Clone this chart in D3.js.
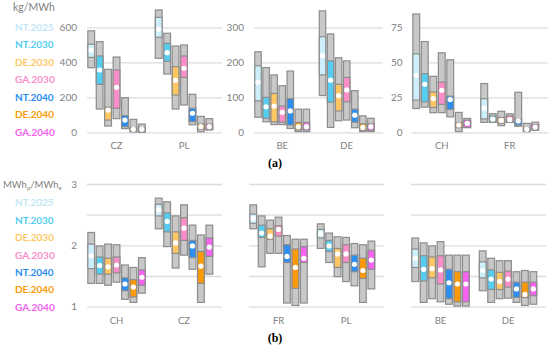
<!DOCTYPE html>
<html>
<head>
<meta charset="utf-8">
<script src="https://cdn.jsdelivr.net/npm/d3@7"></script>
<style>
  body { margin: 0; background: #fff; }
  svg { display: block; font-family: Lato, "Open Sans", sans-serif; }
</style>
</head>
<body>
<div id="chart"></div>
<script>
// scenarios and their colours
const scenarios = ["NT.2025", "NT.2030", "DE.2030", "GA.2030", "NT.2040", "DE.2040", "GA.2040"];
const barColors = ["#cdeefb", "#55cdf0", "#fec764", "#fb8ec8", "#2a8ef2", "#fb9a06", "#f462ee"];
const textColors = ["#c3e6f6", "#55cdf2", "#fec764", "#fb8ec8", "#2a8ef2", "#fb9a06", "#f462ee"];

// each row: [min, boxLow, boxHigh, max, dot]  (one row per scenario)
// (a) emissions, kg/MWh
const emisCZ = [[369, 428, 503, 580, 470], [133, 274, 436, 518, 356], [36, 70, 143, 360, 127], [78, 137, 356, 430, 257],
                [21, 32, 95, 198, 70], [2, 8, 25, 74, 17], [0, 8, 25, 47, 17]];
const emisPL = [[423, 543, 657, 699, 589], [333, 406, 509, 566, 455], [133, 213, 375, 493, 297], [156, 314, 436, 499, 366],
                [43, 61, 137, 217, 109], [3, 17, 47, 91, 32], [13, 17, 47, 78, 32]];
const emisBE = [[43, 90, 190, 230, 143], [30, 40, 100, 185, 73], [22, 30, 111, 164, 75], [22, 29, 75, 133, 57],
                [11, 21, 96, 175, 61], [2, 7, 28, 66, 16], [2, 7, 28, 66, 16]];
const emisDE = [[105, 164, 273, 347, 219], [14, 86, 204, 281, 149], [33, 61, 137, 213, 105], [35, 87, 157, 204, 121],
                [13, 29, 66, 119, 49], [2, 6, 24, 47, 14], [2, 6, 24, 40, 16]];
const emisCH = [[17, 23, 56, 84.5, 40.7], [18, 21.7, 41.9, 64.8, 34.3], [14, 17.7, 28.8, 40, 24.1], [14, 20, 35.9, 56.8, 30],
                [11, 16.3, 25.8, 51.8, 23.4], [0.5, 3.3, 6.8, 14.2, 5.2], [3.3, 3.5, 8.7, 9.9, 6.4]];
const emisFR = [[7.1, 9.6, 24, 34.8, 17.2], [7.1, 7.5, 11.6, 13.3, 9.4], [4.7, 6.4, 10.6, 15, 8.5], [7, 7.5, 11.6, 13.2, 9],
                [4.3, 5.2, 9.4, 28.6, 8.1], [0.4, 1.2, 3, 6.4, 2.1], [1.4, 2.5, 5.5, 7.2, 3.8]];

// (b) primary energy factor, MWh_p/MWh_e
const pefCH = [[1.38, 1.62, 2.02, 2.21, 1.83], [1.38, 1.53, 1.81, 1.99, 1.67], [1.35, 1.53, 1.79, 2.02, 1.65], [1.40, 1.55, 1.81, 2.01, 1.68],
               [1.12, 1.26, 1.47, 1.68, 1.37], [1.07, 1.16, 1.44, 1.64, 1.32], [1.22, 1.35, 1.60, 1.80, 1.48]];
const pefCZ = [[2.27, 2.48, 2.67, 2.77, 2.58], [1.98, 2.22, 2.53, 2.71, 2.39], [1.63, 1.87, 2.22, 2.48, 2.04], [1.84, 2.08, 2.45, 2.66, 2.28],
               [1.61, 1.80, 2.08, 2.33, 1.99], [1.07, 1.38, 1.90, 2.17, 1.66], [1.53, 1.82, 2.12, 2.33, 1.97]];
const pefFR = [[2.27, 2.36, 2.51, 2.66, 2.44], [1.65, 2.13, 2.33, 2.48, 2.20], [1.87, 2.10, 2.27, 2.41, 2.15], [1.87, 2.15, 2.32, 2.46, 2.26],
               [1.06, 1.72, 2.01, 2.16, 1.82], [1.02, 1.30, 1.94, 2.10, 1.64], [1.06, 1.72, 1.98, 2.10, 1.79]];
const pefPL = [[1.95, 2.12, 2.26, 2.35, 2.19], [1.72, 1.90, 2.08, 2.20, 1.99], [1.49, 1.64, 1.95, 2.14, 1.86], [1.41, 1.72, 2.01, 2.13, 1.86],
               [1.34, 1.57, 1.84, 2.03, 1.69], [1.07, 1.46, 1.79, 2.01, 1.59], [1.29, 1.61, 1.92, 2.07, 1.76]];
const pefBE = [[1.41, 1.64, 1.94, 2.12, 1.79], [1.07, 1.42, 1.83, 2.04, 1.61], [1.13, 1.47, 1.81, 1.99, 1.62], [1.08, 1.37, 1.83, 2.06, 1.60],
               [1.04, 1.13, 1.61, 1.84, 1.39], [1.01, 1.08, 1.57, 1.84, 1.37], [1.01, 1.08, 1.57, 1.84, 1.37]];
const pefDE = [[1.26, 1.47, 1.73, 1.91, 1.59], [1.07, 1.28, 1.60, 1.79, 1.45], [1.13, 1.28, 1.56, 1.75, 1.41], [1.14, 1.32, 1.58, 1.75, 1.45],
               [1.07, 1.15, 1.40, 1.57, 1.29], [1.02, 1.15, 1.40, 1.59, 1.20], [1.04, 1.18, 1.40, 1.57, 1.29]];

const W = 550, H = 348;
const svg = d3.select("#chart").append("svg").attr("width", W).attr("height", H);

function drawPanel(p) {
    const y = d3.scaleLinear().domain(p.domain).range(p.yRange);
    const x0 = d3.scaleBand().domain(p.cats.map(c => c.name))
        .range(p.xRange).paddingInner(0.125).paddingOuter(0.0625).align(0);
    const xs = d3.scaleBand().domain(scenarios)
        .range([0, x0.bandwidth()]).paddingInner(0.2).paddingOuter(0.1);

    const g = svg.append("g");

    // gridlines
    const grid = g.append("g")
        .attr("transform", `translate(${p.xRange[0]},0)`)
        .call(d3.axisLeft(y).tickValues(p.grid).tickSize(-(p.xRange[1] - p.xRange[0])).tickFormat(""));
    grid.select(".domain").remove();
    grid.selectAll("line").attr("stroke", "#dcdcdc").attr("stroke-width", 1.3);

    // value labels
    if (p.labels) {
        const ax = g.append("g")
            .attr("transform", `translate(${p.labelX},0)`)
            .call(d3.axisLeft(y).tickValues(p.labels).tickSize(0).tickPadding(0).tickFormat(d3.format("d")));
        ax.select(".domain").remove();
        ax.selectAll("text").attr("fill", "#7f7f7f").style("font-size", "10px")
            .style("font-family", "Lato, sans-serif");
    }

    // category labels
    const cx = g.append("g")
        .attr("transform", `translate(0,${p.yRange[0]})`)
        .call(d3.axisBottom(x0).tickSize(0).tickPadding(p.catPad));
    cx.select(".domain").remove();
    cx.selectAll("text").attr("fill", "#7f7f7f").style("font-size", "9.5px")
        .style("font-family", "Lato, sans-serif");

    // bars
    for (const c of p.cats) {
        const rows = c.rows.map((r, i) => ({ s: scenarios[i], col: barColors[i], min: r[0], lo: r[1], hi: r[2], max: r[3], mid: r[4] }));
        const cg = g.append("g").attr("transform", `translate(${x0(c.name)},0)`);
        cg.selectAll("rect.range").data(rows).join("rect")
            .attr("class", "range")
            .attr("x", d => xs(d.s)).attr("width", xs.bandwidth())
            .attr("y", d => y(d.max)).attr("height", d => y(d.min) - y(d.max))
            .attr("fill", "#c8c8c8").attr("stroke", "#8c8c8c").attr("stroke-width", 1.2);
        cg.selectAll("rect.box").data(rows).join("rect")
            .attr("class", "box")
            .attr("x", d => xs(d.s)).attr("width", xs.bandwidth())
            .attr("y", d => y(d.hi)).attr("height", d => y(d.lo) - y(d.hi))
            .attr("fill", d => d.col).attr("stroke", "#8c8c8c").attr("stroke-width", 1.2);
        cg.selectAll("circle").data(rows).join("circle")
            .attr("cx", d => xs(d.s) + xs.bandwidth() / 2)
            .attr("cy", d => y(d.mid)).attr("r", 2.6)
            .attr("fill", "#fff");
    }
}

function drawLegend(yTop, yBottom) {
    const ly = d3.scalePoint().domain(scenarios).range([yTop, yBottom]);
    svg.append("g").selectAll("text").data(scenarios).join("text")
        .attr("x", 15).attr("y", d => ly(d))
        .attr("dominant-baseline", "central")
        .attr("fill", (d, i) => textColors[i])
        .style("font-size", "10px").style("font-weight", "bold")
        .text(d => d);
}

// (a) top row
const topY = [132.3, 27.3];
drawPanel({ cats: [{ name: "CZ", rows: emisCZ }, { name: "PL", rows: emisPL }], domain: [0, 600], yRange: topY,
    xRange: [87, 222], grid: [0, 200, 400, 600], labels: [0, 200, 400, 600], labelX: 77, catPad: 10 });
drawPanel({ cats: [{ name: "BE", rows: emisBE }, { name: "DE", rows: emisDE }], domain: [0, 300], yRange: topY,
    xRange: [254, 383], grid: [0, 100, 200, 300], labels: [0, 100, 200, 300], labelX: 244, catPad: 10 });
drawPanel({ cats: [{ name: "CH", rows: emisCH }, { name: "FR", rows: emisFR }], domain: [0, 75], yRange: topY,
    xRange: [412, 548], grid: [0, 25, 50, 75], labels: [0, 25, 50, 75], labelX: 402.5, catPad: 10 });

// (b) bottom row
const botY = [306.7, 184];
drawPanel({ cats: [{ name: "CH", rows: pefCH }, { name: "CZ", rows: pefCZ }], domain: [1, 3], yRange: botY,
    xRange: [87, 222], grid: [1, 1.5, 2, 2.5, 3], labels: [1, 2, 3], labelX: 77, catPad: 11 });
drawPanel({ cats: [{ name: "FR", rows: pefFR }, { name: "PL", rows: pefPL }], domain: [1, 3], yRange: botY,
    xRange: [249, 384], grid: [1, 1.5, 2, 2.5, 3], labels: null, catPad: 11 });
drawPanel({ cats: [{ name: "BE", rows: pefBE }, { name: "DE", rows: pefDE }], domain: [1, 3], yRange: botY,
    xRange: [411, 546], grid: [1, 1.5, 2, 2.5, 3], labels: null, catPad: 11 });

// legends and unit labels
drawLegend(26.7, 131.7);
drawLegend(202.3, 306.7);

svg.append("text").attr("x", 13).attr("y", 7).attr("dominant-baseline", "central")
    .attr("fill", "#7f7f7f").style("font-size", "10.5px").text("kg/MWh");

const unit = svg.append("text").attr("x", 3).attr("y", 184).attr("dominant-baseline", "central")
    .attr("fill", "#7f7f7f").style("font-size", "9.5px");
unit.append("tspan").text("MWh");
unit.append("tspan").attr("dy", 3).style("font-size", "6px").text("p");
unit.append("tspan").attr("dy", -3).text("/MWh");
unit.append("tspan").attr("dy", 3).style("font-size", "6px").text("e");

// panel captions
svg.append("text").attr("x", 275).attr("y", 163).attr("text-anchor", "middle").attr("dominant-baseline", "central")
    .style("font-family", "'Liberation Serif', 'DejaVu Serif', serif").style("font-weight", "bold").style("font-size", "12px")
    .text("(a)");
svg.append("text").attr("x", 275).attr("y", 338).attr("text-anchor", "middle").attr("dominant-baseline", "central")
    .style("font-family", "'Liberation Serif', 'DejaVu Serif', serif").style("font-weight", "bold").style("font-size", "12px")
    .text("(b)");
</script>
</body>
</html>
